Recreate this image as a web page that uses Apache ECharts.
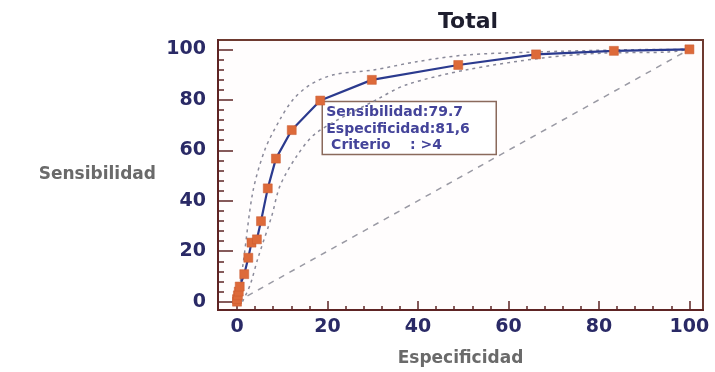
<!DOCTYPE html>
<html>
<head>
<meta charset="utf-8">
<script src="https://cdn.jsdelivr.net/npm/echarts@6/dist/echarts.min.js"></script>
<style>
  html, body { margin: 0; padding: 0; background: #fff; }
  #chart { width: 715px; height: 372px; }
</style>
</head>
<body>
<div id="chart"></div>
<script>
// ROC curve (x = 100 - especificidad, y = sensibilidad)
const rocX = [0, 0, 0.2, 0.4, 0.6, 1.6, 2.5, 3.2, 4.4, 5.3, 6.8, 8.6, 12.1, 18.4, 29.8, 48.9, 66.1, 83.3, 100]
const rocY = [0, 1, 2.5, 4, 6, 10.9, 17.4, 23.4, 24.7, 31.9, 44.9, 56.7, 68, 79.7, 87.9, 93.8, 98, 99.4, 100]

// confidence band
const upperX = [0, 1.3, 3.5, 6.2, 9.5, 12.4, 16.1, 21.3, 30.1, 39.7, 50.8, 65.4, 85, 100]
const upperY = [0, 14.4, 43.5, 60.4, 72.2, 80.1, 85.9, 89.9, 91.8, 95.1, 97.8, 98.9, 99.8, 100]
const lowerX = [1.2, 2.9, 4.6, 7.7, 9.5, 13.2, 17.6, 30.9, 37.5, 50.8, 67.6, 80.9, 95, 100]
const lowerY = [0, 6.6, 17.1, 34.1, 45.9, 57.7, 67, 80.1, 86, 91.9, 96.6, 98.5, 98.9, 100]

const diagX = [0, 100]
const diagY = [0, 100]

const majorTicks = [0, 20, 40, 60, 80, 100]
const minorTicks = [4, 8, 12, 16, 24, 28, 32, 36, 44, 48, 52, 56, 64, 68, 72, 76, 84, 88, 92, 96]

const cutPoint = [18.4, 79.7]
const boxLines = ['Sensibilidad:79.7', 'Especificidad:81,6', ' Criterio    : >4']

const pairs = (xs, ys) => xs.map((x, i) => [x, ys[i]])

const frameColor = '#5e2424'
const labelColor = '#2a2a66'

const chart = echarts.init(document.getElementById('chart'))

function xAxisDef(minor) {
  return {
    type: 'value',
    position: 'bottom',
    min: -4.2,
    max: 103,
    axisLine: { show: !minor, onZero: false, lineStyle: { color: frameColor, width: 2 } },
    axisTick: {
      show: true,
      inside: true,
      length: minor ? 4 : 9,
      customValues: minor ? minorTicks : majorTicks,
      lineStyle: { color: frameColor, width: 1.5 },
    },
    axisLabel: minor
      ? { show: false }
      : {
          customValues: majorTicks,
          color: labelColor,
          fontFamily: 'DejaVu Sans',
          fontWeight: 'bold',
          fontSize: 19,
          margin: 8,
        },
    splitLine: { show: false },
    name: minor ? '' : 'Especificidad',
    nameLocation: 'middle',
    nameGap: 40,
    nameTextStyle: { color: '#6a6a6a', fontFamily: 'DejaVu Sans', fontWeight: 'bold', fontSize: 17 },
  }
}

function yAxisDef(minor) {
  return {
    type: 'value',
    position: 'left',
    min: -3.3,
    max: 103.7,
    axisLine: { show: !minor, onZero: false, lineStyle: { color: frameColor, width: 2 } },
    axisTick: {
      show: true,
      inside: true,
      length: minor ? 6 : 15,
      customValues: minor ? minorTicks : majorTicks,
      lineStyle: { color: frameColor, width: 1.5 },
    },
    axisLabel: minor
      ? { show: false }
      : {
          customValues: majorTicks,
          color: labelColor,
          fontFamily: 'DejaVu Sans',
          fontWeight: 'bold',
          fontSize: 19,
          margin: 12,
        },
    splitLine: { show: false },
    name: minor ? '' : 'Sensibilidad',
    nameLocation: 'middle',
    nameRotate: 0,
    nameGap: 62,
    nameTextStyle: { color: '#6a6a6a', fontFamily: 'DejaVu Sans', fontWeight: 'bold', fontSize: 17, align: 'right' },
  }
}

chart.setOption({
  animation: false,
  backgroundColor: '#ffffff',
  title: {
    text: 'Total',
    left: 463,
    top: 6,
    textAlign: 'center',
    textStyle: { color: '#1e1e2e', fontFamily: 'DejaVu Sans', fontWeight: 'bold', fontSize: 22 },
  },
  grid: {
    left: 218,
    right: 12,
    top: 40,
    bottom: 60,
    show: true,
    backgroundColor: '#fffdfd',
    borderColor: '#6e3a30',
    borderWidth: 2,
  },
  xAxis: [xAxisDef(false), xAxisDef(true)],
  yAxis: [yAxisDef(false), yAxisDef(true)],
  series: [
    {
      name: 'diagonal',
      type: 'line',
      data: pairs(diagX, diagY),
      showSymbol: false,
      lineStyle: { color: '#9a9aa4', width: 1.5, type: [6, 6] },
      z: 1,
    },
    {
      name: 'upper',
      type: 'line',
      data: pairs(upperX, upperY),
      smooth: 0.3,
      showSymbol: false,
      lineStyle: { color: '#8a8a9a', width: 1.5, type: [3, 4] },
      z: 2,
    },
    {
      name: 'lower',
      type: 'line',
      data: pairs(lowerX, lowerY),
      smooth: 0.3,
      showSymbol: false,
      lineStyle: { color: '#8a8a9a', width: 1.5, type: [3, 4] },
      z: 2,
    },
    {
      name: 'ROC',
      type: 'line',
      data: pairs(rocX, rocY),
      symbol: 'rect',
      symbolSize: 9,
      itemStyle: { color: '#dd6a3a', borderColor: '#c85a30', borderWidth: 0.5 },
      lineStyle: { color: '#2b3a8e', width: 2.2 },
      z: 3,
    },
  ],
})

// annotation box anchored to the cut point
const p = chart.convertToPixel({ gridIndex: 0 }, cutPoint)
chart.setOption({
  graphic: [
    {
      type: 'group',
      x: p[0] + 2,
      y: p[1] + 1,
      z: 10,
      children: [
        {
          type: 'rect',
          shape: { x: 0, y: 0, width: 174, height: 53 },
          style: { fill: '#ffffff', stroke: '#8a6a5c', lineWidth: 1.5 },
        },
        {
          type: 'text',
          x: 4,
          y: 3,
          style: {
            text: boxLines.join('\n'),
            font: 'bold 14px "DejaVu Sans"',
            fill: '#44449a',
            lineHeight: 16.5,
          },
        },
      ],
    },
  ],
})
</script>
</body>
</html>
